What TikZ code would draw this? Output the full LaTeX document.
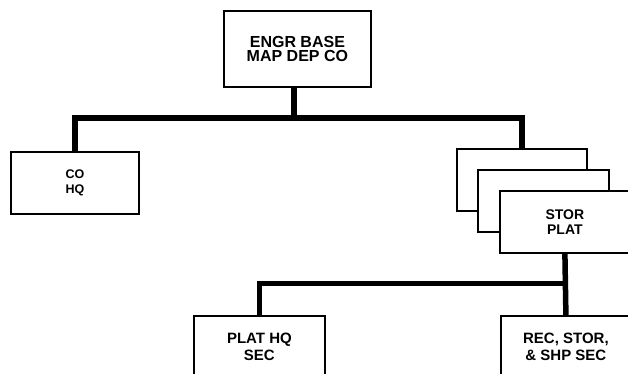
\documentclass[tikz,border=0pt]{standalone}
\usepackage{fontspec}
\setmainfont{Liberation Sans}
\begin{document}
\begin{tikzpicture}[x=1pt,y=-1pt,
  box/.style={draw=black, line width=1.8pt, fill=white, anchor=north west, inner sep=0pt,
    align=center, font=\bfseries\fontsize{15}{16.5}\selectfont, minimum height=62pt},
  conn/.style={draw=black, line width=6pt, line join=miter, line cap=butt}]
\useasboundingbox (0,0) rectangle (628,374);
\clip (0,0) rectangle (628,374);
\fill[white] (0,0) rectangle (628,374);
\node[box, minimum width=147pt, minimum height=76pt, font=\bfseries\fontsize{16}{14.5}\selectfont] (top) at (223,10) {ENGR BASE\\MAP DEP CO};
\node[box, minimum width=128pt, font=\bfseries\fontsize{12.5}{15}\selectfont] (cohq) at (10,151) {CO\\HQ};
\node[box, minimum width=130pt] (stor1) at (456,148) {};
\node[box, minimum width=131pt] (stor2) at (477,169) {};
\node[box, minimum width=130pt, font=\bfseries\fontsize{14}{15.5}\selectfont] (stor3) at (499,190) {STOR\\PLAT};
\node[box, minimum width=131pt] (plat) at (193,315) {PLAT HQ\\SEC};
\node[box, minimum width=130pt] (rec) at (500,315) {REC, STOR,\\\& SHP SEC};
\coordinate (j1) at (293.5,118);
\coordinate (j2) at (564,283.5);
\draw[conn] (top.south -| j1) -- (j1);
\draw[conn] (cohq.north) |- (j1) -| (stor1.north);
\draw[conn, line width=5.5pt] (stor3.south) -- (rec.north);
\draw[conn, line width=5.5pt] (j2) -| (plat.north);
\end{tikzpicture}
\end{document}
